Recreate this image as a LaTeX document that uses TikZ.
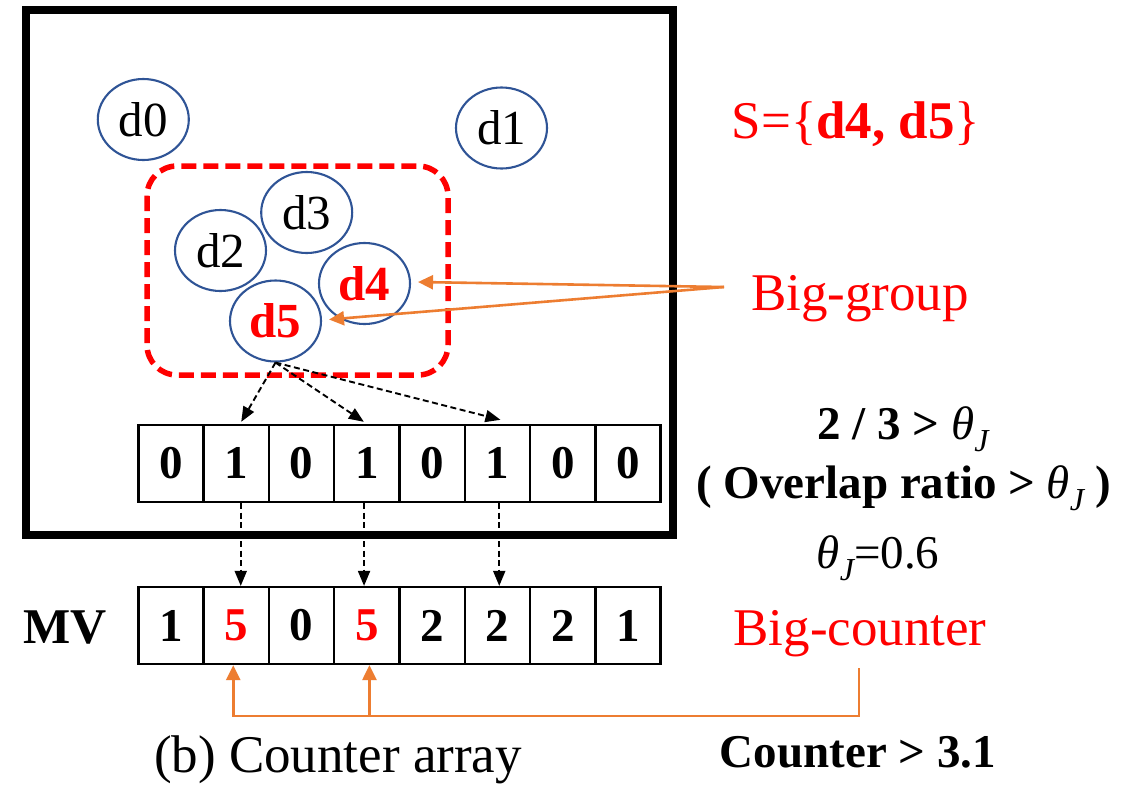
\documentclass[tikz,border=0pt]{standalone}
\usepackage{fontspec}
\setmainfont{Liberation Serif}
\usetikzlibrary{arrows.meta,shapes.geometric}
\definecolor{cblue}{RGB}{47,84,150}
\definecolor{corange}{RGB}{237,125,49}
\definecolor{cred}{RGB}{255,0,0}
\newcommand\fs[1]{\fontsize{#1}{#1}\selectfont}
\newcommand\thJ{{\normalfont\itshape θ}\raisebox{-0.27em}{\normalfont\fs{32}\itshape J}}
\begin{document}
\begin{tikzpicture}[x=1pt,y=-1pt,
  doc/.style={ellipse, draw=cblue, line width=2.1pt, minimum width=91pt, minimum height=81pt, inner sep=0pt, font=\fs{49}},
  cell/.style={rectangle, draw=black, line width=2.5pt, minimum width=65.3pt, minimum height=76.7pt, inner sep=0pt, font=\fs{47}\bfseries},
  darrow/.style={black, line width=1.9pt, dash pattern=on 6pt off 3.5pt, -{Triangle[length=15pt,width=12pt]}},
  oarrow/.style={corange, line width=2.6pt, -{Triangle[length=15pt,width=14pt]}},
  lbl/.style={anchor=base, inner sep=0pt}]
\useasboundingbox (0,0) rectangle (1130,785);
\fill[white] (0,0) rectangle (1130,785);
% outer frame
\draw[line width=8pt] (26,10) rectangle (672.5,535);
% big group
\draw[cred, line width=5.5pt, dash pattern=on 15pt off 7pt, rounded corners=30pt] (147,166) rectangle (448,375);
% documents
\node[doc] (d0) at (143.3,119.5) {d0};
\node[doc] (d1) at (501.5,128) {d1};
\node[doc] (d3) at (306.7,212.5) {d3};
\node[doc] (d2) at (220.5,250.5) {d2};
\node[doc, text=cred, font=\fs{49}\bfseries] (d4) at (364.5,283.5) {d4};
\node[doc, text=cred, font=\fs{49}\bfseries] (d5) at (275.5,321) {d5};
% arrays
\foreach \v [count=\i from 0] in {0,1,0,1,0,1,0,0}
  \node[cell] (u\i) at ({170.95+65.3*\i},463.4) {\v};
\foreach \v/\c [count=\i from 0] in {1/black,5/cred,0/black,5/cred,2/black,2/black,2/black,1/black}
  \node[cell, text=\c] (m\i) at ({170.95+65.3*\i},625.5) {\v};
% labels
\node[lbl, font=\fs{50}\bfseries] (mv) at (65,643) {MV};
\node[lbl, font=\fs{53}] (cap) at (338,772.5) {(b) Counter array};
\node[lbl, text=cred, font=\fs{53}] (S) at (856,138) {S=\{\textbf{d4, d5}\}};
\node[lbl, text=cred, font=\fs{53}] (bg) at (860,310) {Big-group};
\node[lbl, font=\fs{47}\bfseries] (t1) at (903,439) {2 / 3 > \thJ};
\node[lbl, font=\fs{47}\bfseries] (t2) at (904,498) {( Overlap ratio > \thJ{} )};
\node[lbl, font=\fs{47}] (t3) at (878,568) {\thJ=0.6};
\node[lbl, text=cred, font=\fs{53}] (bc) at (860,645) {Big-counter};
\node[lbl, font=\fs{47}\bfseries] (c31) at (858,767) {Counter > 3.1};
% big-group arrows
\coordinate (bgs) at (724,287);
\draw[oarrow] (bgs) -- ([xshift=7pt,yshift=1.5pt]d4.east);
\draw[oarrow] (bgs) -- ([xshift=7pt,yshift=1.5pt]d5.east);
% dashed arrows from d5
\draw[darrow] (d5.south) -- ([xshift=5pt,yshift=2pt]u1.north);
\draw[darrow] (d5.south) -- ([xshift=-3pt,yshift=2pt]u3.north);
\draw[darrow] (d5.south) -- ([xshift=3pt,yshift=4pt]u5.north);
\foreach \i/\s in {1/4.5,3/-2.8,5/1.8}
  \draw[darrow] ([xshift=\s pt]u\i.south) -- ([xshift=\s pt]m\i.north);
% big-counter bracket
\coordinate (bcb) at (859,668);
\coordinate (low) at (0,716);
\draw[oarrow, line join=miter] (bcb) -- (bcb |- low) -- ([xshift=-3pt]m1.south |- low) -- ([xshift=-3pt]m1.south);
\draw[oarrow] ([xshift=2.6pt]m3.south |- low) -- ([xshift=2.6pt]m3.south);
\end{tikzpicture}
\end{document}
